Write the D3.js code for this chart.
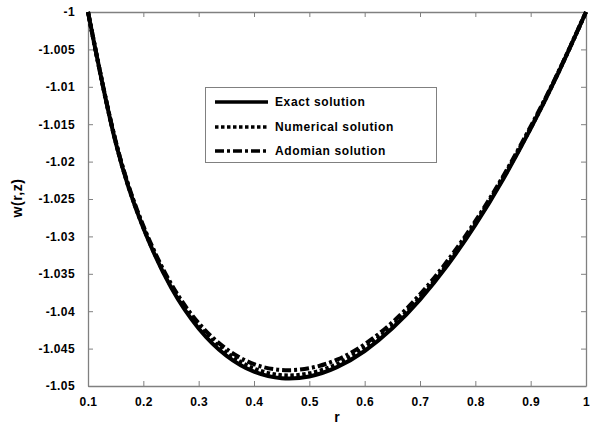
<!DOCTYPE html>
<html>
<head>
<meta charset="utf-8">
<script src="https://cdn.jsdelivr.net/npm/d3@7"></script>
<style>
  html, body { margin: 0; padding: 0; background: #fff; }
  svg { display: block; }
  text { font-family: "Liberation Sans", Arial, sans-serif; font-weight: bold; fill: #000; }
</style>
</head>
<body>
<script>
// ---- data ----
const rValues = [0.10,0.15,0.20,0.25,0.30,0.35,0.40,0.45,0.50,0.55,0.60,0.65,0.70,0.75,0.80,0.85,0.90,0.95,1.00];
const exactValues = [-1.00000,-1.01745,-1.02889,-1.03681,-1.04230,-1.04594,-1.04808,-1.04896,-1.04872,-1.04748,-1.04532,-1.04229,-1.03845,-1.03383,-1.02847,-1.02238,-1.01560,-1.00813,-1.00000];
const numericalValues = [-1.00000,-1.01735,-1.02879,-1.03661,-1.04200,-1.04554,-1.04768,-1.04856,-1.04832,-1.04708,-1.04492,-1.04199,-1.03815,-1.03363,-1.02827,-1.02218,-1.01550,-1.00808,-1.00000];
const adomianValues = [-1.00000,-1.01725,-1.02859,-1.03631,-1.04160,-1.04504,-1.04708,-1.04786,-1.04762,-1.04648,-1.04442,-1.04149,-1.03775,-1.03323,-1.02797,-1.02198,-1.01530,-1.00803,-1.00000];
const seriesNames = ["Exact solution","Numerical solution","Adomian solution"];
const xTicks = [0.1,0.2,0.3,0.4,0.5,0.6,0.7,0.8,0.9,1.0];
const xTickLabels = ["0.1","0.2","0.3","0.4","0.5","0.6","0.7","0.8","0.9","1"];
const yTicks = [-1,-1.005,-1.01,-1.015,-1.02,-1.025,-1.03,-1.035,-1.04,-1.045,-1.05];
const yTickLabels = ["-1","-1.005","-1.01","-1.015","-1.02","-1.025","-1.03","-1.035","-1.04","-1.045","-1.05"];
const xTitle = "r";
const yTitle = "w(r,z)";

// ---- layout ----
const W = 596, H = 426;
const L = 88, T = 12, R = 586, B = 386;
const axisColor = "#808080";

const svg = d3.select("body").append("svg").attr("width", W).attr("height", H);
svg.append("rect").attr("width", W).attr("height", H).attr("fill", "#fff");

const x = d3.scaleLinear().domain([0.1, 1]).range([L, R]);
const y = d3.scaleLinear().domain([-1.05, -1]).range([B, T]);

function styleAxis(g, showLabels) {
  g.select(".domain").attr("stroke", axisColor).attr("stroke-width", 1.3);
  g.selectAll(".tick line").attr("stroke", axisColor).attr("stroke-width", 1);
  g.selectAll(".tick text")
    .attr("font-size", 12).attr("font-family", "Liberation Sans, Arial, sans-serif")
    .attr("font-weight", "bold").attr("fill", "#000").style("letter-spacing", "0.4px");
  if (!showLabels) g.selectAll(".tick text").remove();
}

const gx = svg.append("g").attr("transform", `translate(0,${B})`)
  .call(d3.axisBottom(x).tickValues(xTicks).tickFormat((d,i) => xTickLabels[i]).tickSizeInner(-5).tickSizeOuter(0).tickPadding(9));
styleAxis(gx, true);
gx.selectAll(".tick text").attr("dy", "0.95em");

const gxt = svg.append("g").attr("transform", `translate(0,${T})`)
  .call(d3.axisTop(x).tickValues(xTicks).tickSizeInner(-5).tickSizeOuter(0));
styleAxis(gxt, false);

const gy = svg.append("g").attr("transform", `translate(${L},0)`)
  .call(d3.axisLeft(y).tickValues(yTicks).tickFormat((d,i) => yTickLabels[i]).tickSizeInner(-5).tickSizeOuter(0).tickPadding(13));
styleAxis(gy, true);

const gyr = svg.append("g").attr("transform", `translate(${R},0)`)
  .call(d3.axisRight(y).tickValues(yTicks).tickSizeInner(-5).tickSizeOuter(0));
styleAxis(gyr, false);

// ---- curves ----
const line = d3.line().x(d => x(d[0])).y(d => y(d[1])).curve(d3.curveNatural);
const styles = [
  { dash: null, width: 4 },
  { dash: "3.5,2.5", width: 4.2 },
  { dash: "9,3,3,3", width: 4 }
];
const allSeries = [exactValues, numericalValues, adomianValues];
const plot = svg.append("g");
plot.append("defs").append("clipPath").attr("id", "clip")
  .append("rect").attr("x", L - 3).attr("y", T - 3).attr("width", R - L + 6).attr("height", B - T);
allSeries.forEach((vals, i) => {
  plot.append("path")
    .datum(rValues.map((r, j) => [r, vals[j]]))
    .attr("d", line)
    .attr("fill", "none")
    .attr("stroke", "#000")
    .attr("stroke-width", styles[i].width)
    .attr("stroke-dasharray", styles[i].dash)
    .attr("clip-path", "url(#clip)");
});

// ---- legend ----
const lg = svg.append("g");
lg.append("rect").attr("x", 205.5).attr("y", 87.5).attr("width", 231).attr("height", 75)
  .attr("fill", "#fff").attr("stroke", axisColor).attr("stroke-width", 1);
const rowY = [102, 127, 151];
seriesNames.forEach((name, i) => {
  lg.append("line").attr("x1", 215).attr("x2", 268).attr("y1", rowY[i]).attr("y2", rowY[i])
    .attr("stroke", "#000").attr("stroke-width", 3.5)
    .attr("stroke-dasharray", styles[i].dash);
  lg.append("text").attr("x", 275).attr("y", rowY[i]).attr("dy", "0.35em")
    .attr("font-size", 12).style("letter-spacing", "0.6px").text(name);
});

// ---- titles ----
svg.append("text").attr("x", 337).attr("y", 422).attr("text-anchor", "middle")
  .attr("font-size", 14).text(xTitle);
svg.append("text").attr("transform", "translate(22,198) rotate(-90)").attr("text-anchor", "middle")
  .attr("font-size", 14).style("letter-spacing", "0.5px").text(yTitle);
</script>
</body>
</html>
